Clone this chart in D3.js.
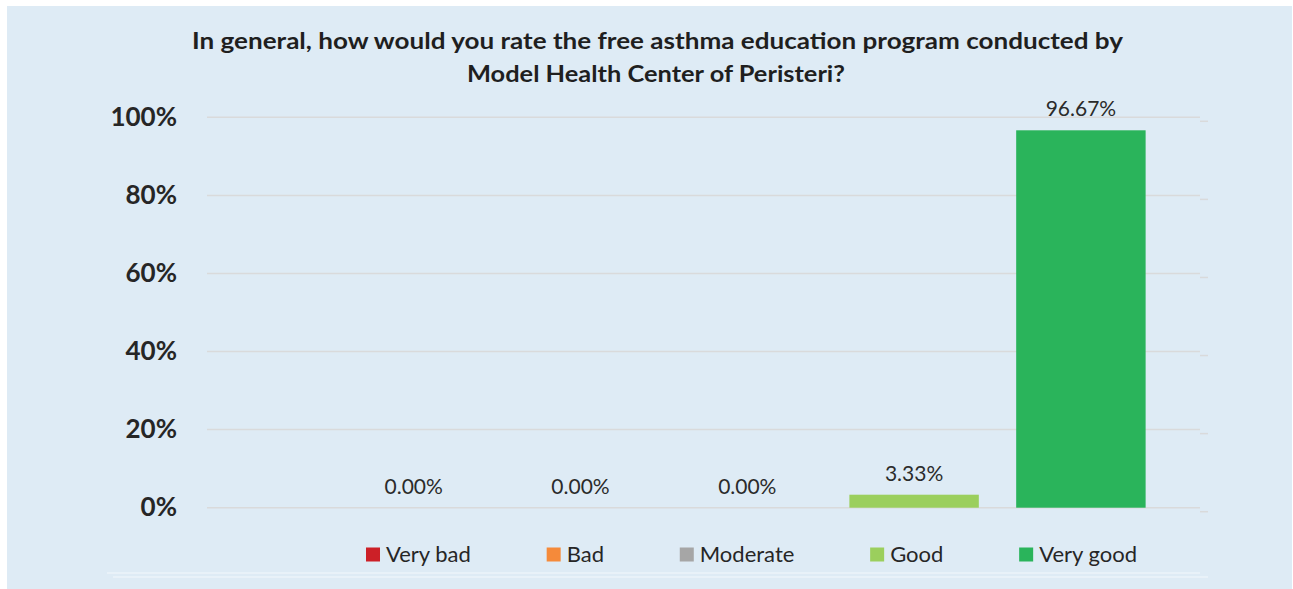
<!DOCTYPE html>
<html>
<head>
<meta charset="utf-8">
<script src="https://cdn.jsdelivr.net/npm/d3@7"></script>
<style>
  html, body { margin: 0; padding: 0; background: #ffffff; }
  svg { display: block; }
</style>
</head>
<body>
<svg id="chart" width="1293" height="589"></svg>
<script>
const titleLines = [
  "In general, how would you rate the free asthma education program conducted by",
  "Model Health Center of Peristeri?"
];
const series = ["Very bad", "Bad", "Moderate", "Good", "Very good"];
const values = [0, 0, 0, 3.33, 96.67];
const colors = ["#cc2027", "#f58a3a", "#a6a6a6", "#9bcf5d", "#2ab45b"];
const yTicks = [0, 20, 40, 60, 80, 100];

const W = 1293, H = 589;
const svg = d3.select("#chart");
const FONT = "Lato, 'Open Sans', 'Liberation Sans', sans-serif";

// panel background
svg.append("rect").attr("x", 7).attr("y", 6).attr("width", W - 8).attr("height", H - 6)
  .attr("fill", "#deebf5");

// plot geometry
const plot = { left: 207, right: 1200, top: 117.3, bottom: 507.7 };

const y = d3.scaleLinear().domain([0, 100]).range([plot.bottom, plot.top]);
const x = d3.scaleBand().domain(series).range([330.3, 1164.3])
  .paddingInner(0.224).paddingOuter(0.112);

// gridlines
const grid = svg.append("g");
grid.selectAll("line.g").data(yTicks).join("line")
  .attr("class", "g")
  .attr("x1", plot.left).attr("x2", plot.right)
  .attr("y1", d => y(d)).attr("y2", d => y(d))
  .attr("stroke", "#d9dadb").attr("stroke-width", 1.5);
grid.selectAll("line.s").data(yTicks).join("line")
  .attr("class", "s")
  .attr("x1", plot.right).attr("x2", plot.right + 8)
  .attr("y1", d => y(d) + 4).attr("y2", d => y(d) + 4)
  .attr("stroke", "#d9dadb").attr("stroke-width", 1.5);

// y axis labels via d3 axis
const yAxis = d3.axisLeft(y).tickValues(yTicks).tickFormat(d => d + "%").tickSize(0).tickPadding(0);
const yg = svg.append("g").attr("transform", "translate(177,0)").call(yAxis);
yg.select(".domain").remove();
yg.selectAll("text")
  .attr("font-family", FONT).attr("font-size", 26).attr("font-weight", 700)
  .attr("fill", "#262626").attr("dy", "0.3em");

// bars
svg.append("g").selectAll("rect").data(series).join("rect")
  .attr("x", d => x(d))
  .attr("width", x.bandwidth())
  .attr("y", (d, i) => y(values[i]))
  .attr("height", (d, i) => y(0) - y(values[i]))
  .attr("fill", (d, i) => colors[i]);

// data labels
svg.append("g").selectAll("text").data(series).join("text")
  .attr("x", d => x(d) + x.bandwidth() / 2)
  .attr("y", (d, i) => y(values[i]) - 14)
  .attr("text-anchor", "middle")
  .attr("font-family", FONT).attr("font-size", 21)
  .attr("fill", "#2b2b2b")
  .text((d, i) => values[i].toFixed(2) + "%");

// title
const titleW = [931, 378];
svg.append("g").selectAll("text").data(titleLines).join("text")
  .attr("x", (d, i) => i === 0 ? 657.5 : 656)
  .attr("y", (d, i) => i === 0 ? 49 : 82)
  .attr("text-anchor", "middle")
  .attr("font-family", FONT).attr("font-size", 23).attr("font-weight", 700)
  .attr("textLength", (d, i) => titleW[i]).attr("lengthAdjust", "spacingAndGlyphs")
  .attr("fill", "#1f1f1f")
  .text(d => d);

// legend
const lg = svg.append("g");
const items = lg.selectAll("g").data(series).join("g");
items.append("rect").attr("width", 14).attr("height", 14).attr("y", -14)
  .attr("fill", (d, i) => colors[i]);
items.append("text").attr("x", 20).attr("y", 0)
  .attr("font-family", FONT).attr("font-size", 22)
  .attr("fill", "#262626").text(d => d);
const widths = [];
items.each(function () {
  const w = 20 + d3.select(this).select("text").node().getComputedTextLength();
  widths.push(w);
});
const legendLeft = 366, legendRight = 1137;
const gap = (legendRight - legendLeft - d3.sum(widths)) / (widths.length - 1);
let start = legendLeft;
items.attr("transform", (d, i) => {
  const t = `translate(${start},561.5)`;
  start += widths[i] + gap;
  return t;
});

// faint lower lines
svg.append("line").attr("x1", 107).attr("x2", 1200).attr("y1", 573).attr("y2", 573)
  .attr("stroke", "#f3f8fc").attr("stroke-width", 1);
svg.append("line").attr("x1", 113).attr("x2", 1208).attr("y1", 577).attr("y2", 577)
  .attr("stroke", "#f3f8fc").attr("stroke-width", 1);
</script>
</body>
</html>
